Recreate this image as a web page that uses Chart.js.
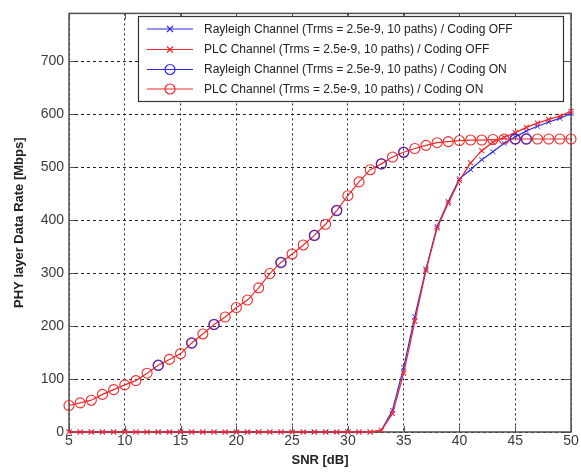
<!DOCTYPE html>
<html>
<head>
<meta charset="utf-8">
<script src="https://cdn.jsdelivr.net/npm/chart.js@4"></script>
<style>
  html, body { margin: 0; padding: 0; background: #fff; }
  #wrap { width: 581px; height: 472px; }
</style>
</head>
<body>
<div id="wrap"><canvas id="grafico" width="581" height="472"></canvas></div>
<script>
// SNR axis (dB), one point per dB
const snrDb = [5,6,7,8,9,10,11,12,13,14,15,16,17,18,19,20,21,22,23,24,25,26,27,
  28,29,30,31,32,33,34,35,36,37,38,39,40,41,42,43,44,45,46,47,48,49,50];

// Coding OFF
const rayleighOff = [0,0,0,0,0,0,0,0,0,0,0,0,0,0,0,0,0,0,0,0,0,0,0,
  0,0,0,0,0,3,41,122,218,308,388,435,478,495,514,529,545,557,568,577,585,592,601];
const plcOff = [0,0,0,0,0,0,0,0,0,0,0,0,0,0,0,0,0,0,0,0,0,0,0,
  0,0,0,0,0,3,35,111,209,305,385,432,475,508,531,547,556,565,575,583,590,596,605];

// Coding ON
const plcOn = [50,55,60,71,80,89,97,111,126,137,148,168,185,203,217,235,249,272,299,320,336,353,371,
  392,418,446,472,495,506,519,528,535,541,546,548,550,551,551,552,553,553,553,553,553,553,553];
const rayleighOnSnr = [13,16,18,24,27,29,33,35,45,46];
const rayleighOn = [126,168,203,320,371,418,506,528,553,553];

const xTicks = [5,10,15,20,25,30,35,40,45,50];
const yTicks = [0,100,200,300,400,500,600,700];

const seriesNames = [
  'Rayleigh Channel (Trms = 2.5e-9, 10 paths) / Coding OFF',
  'PLC Channel (Trms = 2.5e-9, 10 paths) / Coding OFF',
  'Rayleigh Channel (Trms = 2.5e-9, 10 paths) / Coding ON',
  'PLC Channel (Trms = 2.5e-9, 10 paths) / Coding ON'
];

const AZUL = '#2b2bf0';
const ROJO = '#f02a2a';

const puntos = (xs, ys) => xs.map((x, i) => ({ x: x, y: ys[i] }));

// leyenda y marco estilo matlab
const marcoMatlab = {
  id: 'marcoMatlab',
  beforeDatasetsDraw(chart) {
    const { ctx, chartArea: a, scales } = chart;
    ctx.save();
    ctx.strokeStyle = '#555';
    ctx.lineWidth = 1;
    ctx.beginPath();
    xTicks.forEach(t => {
      const px = Math.round(scales.x.getPixelForValue(t)) + 0.5;
      ctx.moveTo(px, a.top); ctx.lineTo(px, a.top + 6);
      ctx.moveTo(px, a.bottom); ctx.lineTo(px, a.bottom - 6);
    });
    yTicks.forEach(t => {
      const py = Math.round(scales.y.getPixelForValue(t)) + 0.5;
      ctx.moveTo(a.left, py); ctx.lineTo(a.left + 6, py);
      ctx.moveTo(a.right, py); ctx.lineTo(a.right - 7, py);
    });
    ctx.stroke();
    ctx.lineWidth = 1.5;
    ctx.strokeStyle = '#505050';
    ctx.strokeRect(a.left, a.top, a.right - a.left, a.bottom - a.top);
    ctx.restore();
  },
  afterDraw(chart) {
    const { ctx } = chart;
    const box = { x: 138, y: 16, w: 425, h: 85 };
    const filas = [29, 49.5, 69.5, 89];
    const colores = [AZUL, ROJO, AZUL, ROJO];
    ctx.save();
    ctx.fillStyle = '#fff';
    ctx.fillRect(box.x, box.y, box.w, box.h);
    ctx.strokeStyle = '#333';
    ctx.lineWidth = 1.2;
    ctx.strokeRect(box.x + 0.5, box.y + 0.5, box.w, box.h);
    filas.forEach((y, i) => {
      ctx.strokeStyle = colores[i];
      ctx.lineWidth = 1.2;
      ctx.beginPath();
      ctx.moveTo(147, y); ctx.lineTo(193, y);
      ctx.stroke();
      ctx.beginPath();
      if (i < 2) {
        ctx.moveTo(167, y - 3); ctx.lineTo(173, y + 3);
        ctx.moveTo(173, y - 3); ctx.lineTo(167, y + 3);
      } else {
        ctx.arc(170, y, 5, 0, Math.PI * 2);
      }
      ctx.stroke();
      ctx.fillStyle = '#222';
      ctx.font = '12px "Liberation Sans", Arial, sans-serif';
      ctx.textBaseline = 'middle';
      ctx.fillText(seriesNames[i], 204, y + 0.5);
    });
    ctx.restore();
  }
};

const fuenteTicks = { family: '"Liberation Sans", Arial, sans-serif', size: 14 };
const fuenteTitulo = { family: '"Liberation Sans", Arial, sans-serif', size: 13, weight: 'bold' };

const config = {
  type: 'line',
  data: {
    datasets: [
      {
        label: seriesNames[0],
        data: puntos(snrDb, rayleighOff),
        borderColor: AZUL,
        borderWidth: 1.2,
        pointStyle: 'crossRot',
        pointRadius: 3.5,
        pointBorderColor: AZUL,
        pointBorderWidth: 1,
        clip: false,
        order: 3
      },
      {
        label: seriesNames[1],
        data: puntos(snrDb, plcOff),
        borderColor: ROJO,
        borderWidth: 1.3,
        pointStyle: 'crossRot',
        pointRadius: 3.5,
        pointBorderColor: ROJO,
        pointBorderWidth: 1.1,
        clip: false,
        order: 2
      },
      {
        label: seriesNames[2],
        data: puntos(rayleighOnSnr, rayleighOn),
        showLine: false,
        borderColor: AZUL,
        pointStyle: 'circle',
        pointRadius: 5,
        pointBackgroundColor: 'transparent',
        pointBorderColor: 'rgba(50,30,200,0.75)',
        pointBorderWidth: 1.4,
        clip: false,
        order: 0
      },
      {
        label: seriesNames[3],
        data: puntos(snrDb, plcOn),
        borderColor: ROJO,
        borderWidth: 1.2,
        pointStyle: 'circle',
        pointRadius: 5,
        pointBackgroundColor: 'transparent',
        pointBorderColor: ROJO,
        pointBorderWidth: 1.1,
        clip: false,
        order: 1
      }
    ]
  },
  options: {
    responsive: false,
    animation: false,
    layout: { padding: { top: 7, right: 10, left: 0, bottom: 0 } },
    plugins: {
      legend: { display: false },
      tooltip: { enabled: false }
    },
    scales: {
      x: {
        type: 'linear',
        min: 5,
        max: 50,
        afterBuildTicks: s => { s.ticks = xTicks.map(v => ({ value: v })); },
        afterFit: s => { s.height = 40; },
        ticks: { color: '#3a3a3a', font: fuenteTicks, padding: 1, maxRotation: 0 },
        grid: { color: '#222', lineWidth: 1, drawTicks: false },
        border: { display: false, dash: [2, 3] },
        title: { display: true, text: 'SNR [dB]', color: '#222', font: fuenteTitulo, padding: { top: 0, bottom: 4 } }
      },
      y: {
        min: 0,
        max: 790,
        afterBuildTicks: s => { s.ticks = yTicks.map(v => ({ value: v })); },
        afterFit: s => { s.width = 69; },
        ticks: { color: '#3a3a3a', font: fuenteTicks, padding: 5 },
        grid: { color: '#222', lineWidth: 1, drawTicks: false },
        border: { display: false, dash: [3, 3] },
        title: { display: true, text: 'PHY layer Data Rate [Mbps]', color: '#222', font: fuenteTitulo, padding: { top: 12, bottom: 0 } }
      }
    }
  },
  plugins: [marcoMatlab]
};

const ctx = document.getElementById('grafico').getContext('2d');
new Chart(ctx, config);
</script>
</body>
</html>
